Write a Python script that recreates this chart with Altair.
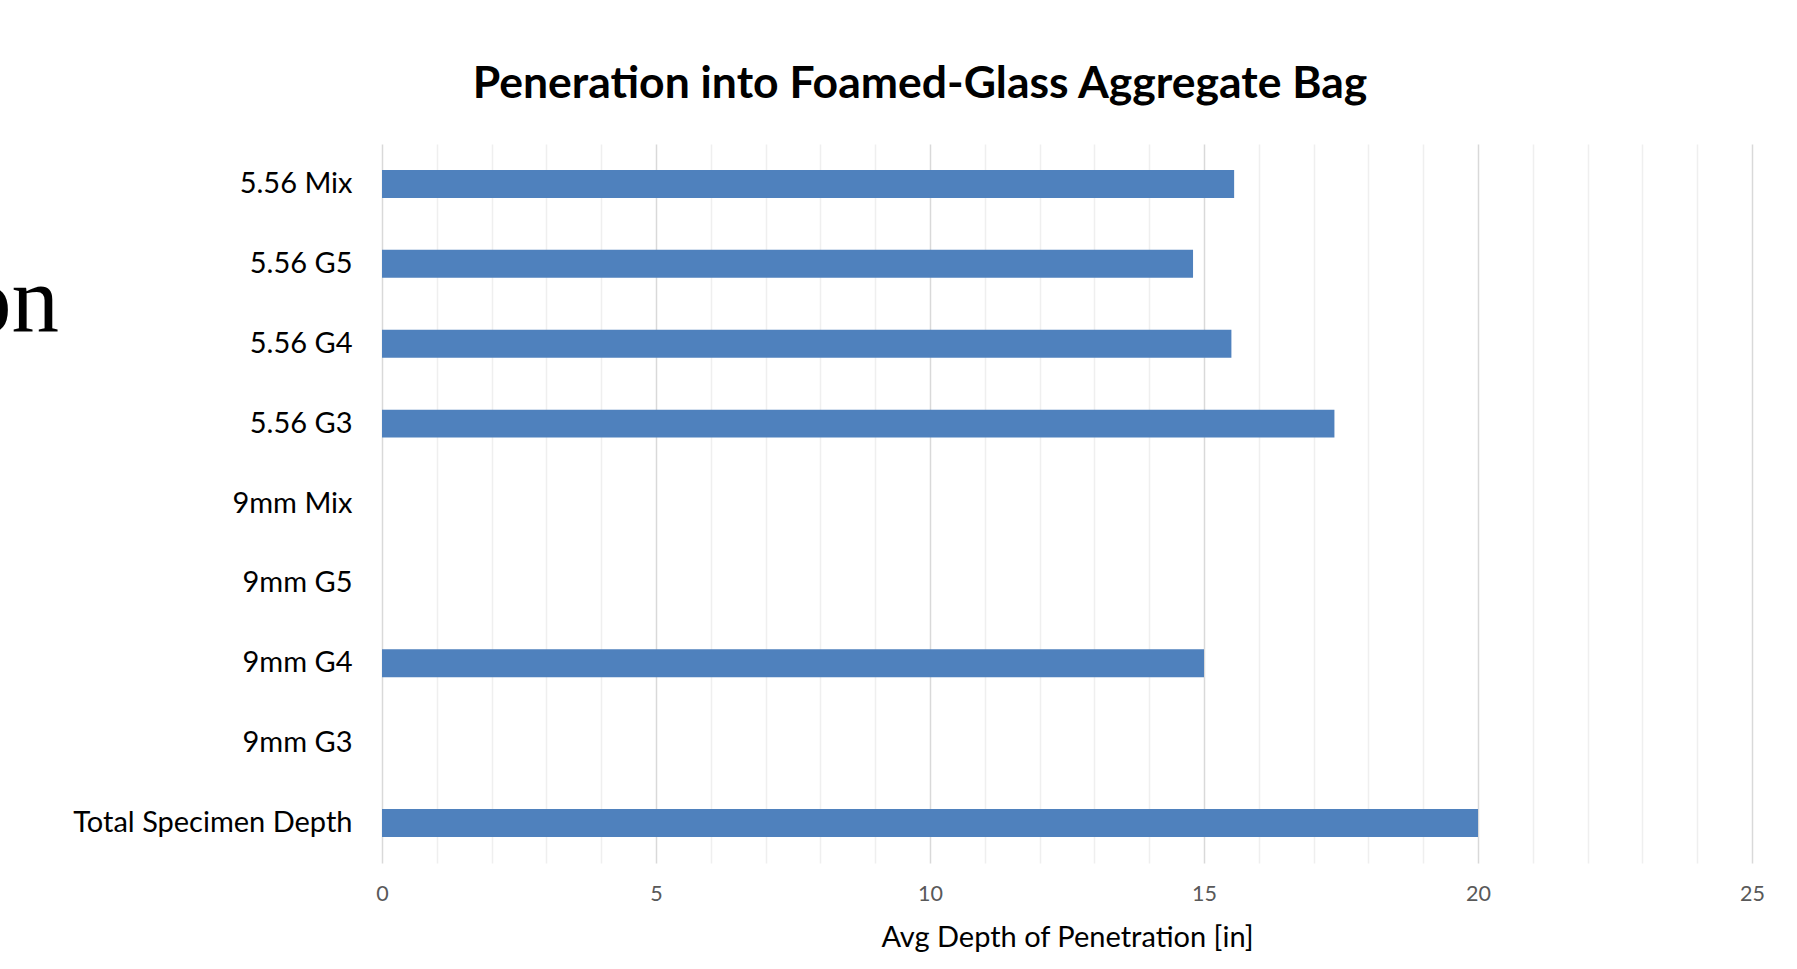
import altair as alt
import pandas as pd

# Average penetration depth per round / gel block
categories = [
    "5.56 Mix", "5.56 G5", "5.56 G4", "5.56 G3",
    "9mm Mix", "9mm G5", "9mm G4", "9mm G3",
    "Total Specimen Depth",
]
depths = [15.55, 14.8, 15.5, 17.38, None, None, 15.0, None, 20.0]

# gridline positions (every inch), labelled every 5
x_ticks = list(range(0, 26))

title_text = "Peneration into Foamed-Glass Aggregate Bag"
x_title = "Avg Depth of Penetration [in]"
heading_fragment = "on"  # tail of the slide heading behind the chart

FONT = "Lato"

df = pd.DataFrame({"Round": categories, "Depth": depths})

bars = alt.Chart(df).mark_bar(color="#4f81bd").encode(
    x=alt.X(
        "Depth:Q",
        scale=alt.Scale(domain=[0, 25], nice=False, zero=True),
        axis=alt.Axis(
            values=x_ticks,
            grid=True,
            gridColor=alt.condition(
                "datum.value % 5 === 0", alt.value("#d9d9d9"), alt.value("#efefef")
            ),
            gridWidth=1.5,
            ticks=False,
            tickSize=0,
            domain=False,
            labelExpr="datum.value % 5 === 0 ? datum.label : ''",
            labelFlush=False,
            labelOverlap=False,
            labelFont=FONT,
            labelFontSize=21.5,
            labelColor="#595959",
            labelBaseline="middle",
            labelPadding=31,
            title=x_title,
            titleFont=FONT,
            titleFontSize=29,
            titleFontWeight="normal",
            titleColor="#000000",
            titleBaseline="alphabetic",
            titleY=83,
        ),
    ),
    y=alt.Y(
        "Round:N",
        sort=categories,
        scale=alt.Scale(domain=categories, paddingInner=0.65, paddingOuter=0.325),
        axis=alt.Axis(
            title=None,
            ticks=False,
            tickSize=0,
            domain=False,
            grid=False,
            labelFont=FONT,
            labelFontSize=29,
            labelColor="#000000",
            labelPadding=30,
            labelBaseline="middle",
            labelLimit=400,
        ),
    ),
)

heading = alt.Chart(pd.DataFrame({"t": [heading_fragment]})).mark_text(
    font="Liberation Serif",
    fontSize=95,
    align="right",
    baseline="alphabetic",
    color="#000000",
).encode(x=alt.value(-323), y=alt.value(188), text="t:N")

chart = (
    alt.layer(bars, heading)
    .properties(
        width=1370,
        height=719,
        autosize=alt.AutoSizeParams(type="none"),
        padding={"left": 382, "top": 144, "right": 45, "bottom": 106},
        background="#ffffff",
        title=alt.TitleParams(
            text=title_text,
            font=FONT,
            fontSize=44.5,
            fontWeight="bold",
            color="#000000",
            anchor="middle",
            frame="group",
            dx=-147,
            baseline="alphabetic",
            offset=2,
        ),
    )
    .configure_view(stroke=None)
)

chart.save("out.html", embed_options={"renderer": "svg", "actions": False})
